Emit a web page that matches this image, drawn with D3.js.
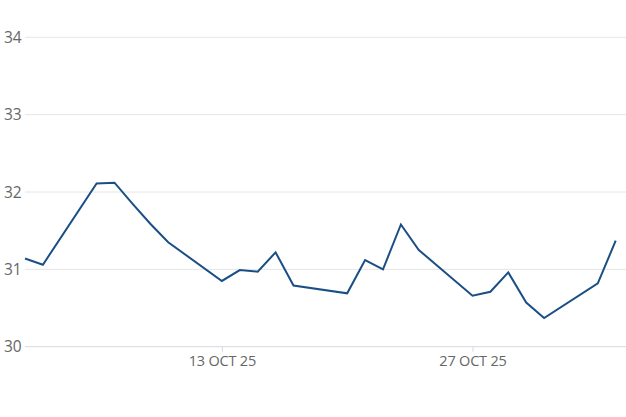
<!DOCTYPE html>
<html>
<head>
<meta charset="utf-8">
<script src="https://cdn.jsdelivr.net/npm/d3@7"></script>
<style>
  body { margin: 0; background: #fff; }
  svg { display: block; }
  .tick text { font-family: "Open Sans", "Liberation Sans", sans-serif; fill: #666; }
</style>
</head>
<body>
<svg id="chart"></svg>
<script>
const dates = ["2025-10-02","2025-10-03","2025-10-06","2025-10-07","2025-10-08","2025-10-09","2025-10-10",
  "2025-10-13","2025-10-14","2025-10-15","2025-10-16","2025-10-17",
  "2025-10-20","2025-10-21","2025-10-22","2025-10-23","2025-10-24",
  "2025-10-27","2025-10-28","2025-10-29","2025-10-30","2025-10-31",
  "2025-11-03","2025-11-04"];
const values = [31.14, 31.06, 32.11, 32.12, 31.85, 31.59, 31.35,
  30.85, 30.99, 30.97, 31.22, 30.79,
  30.69, 31.12, 31.00, 31.58, 31.25,
  30.66, 30.71, 30.96, 30.57, 30.37,
  30.82, 31.37];
const yTicks = [30, 31, 32, 33, 34];
const xTicks = ["2025-10-13", "2025-10-27"];

const width = 626, height = 417;
const svg = d3.select("#chart").attr("width", width).attr("height", height);

const parse = d3.utcParse("%Y-%m-%d");
const data = dates.map((d, i) => ({ date: parse(d), value: values[i] }));

const x = d3.scaleUtc()
    .domain(d3.extent(data, d => d.date))
    .range([25, 615.7]);

const y = d3.scaleLinear()
    .domain([30, 34])
    .range([346.7, 37.3]);

// gridlines
svg.append("g")
    .selectAll("line")
    .data(yTicks)
    .enter().append("line")
    .attr("x1", 25)
    .attr("x2", width)
    .attr("y1", d => y(d))
    .attr("y2", d => y(d))
    .attr("stroke", d => d === 30 ? "#d5d9e0" : "#e6e6e6")
    .attr("stroke-width", 1);

// y labels
svg.append("g")
    .selectAll("text")
    .data(yTicks)
    .enter().append("text")
    .attr("x", 4)
    .attr("y", d => y(d))
    .attr("dy", "0.36em")
    .style("font-family", "'Open Sans', 'Liberation Sans', sans-serif")
    .style("font-size", "15.5px")
    .style("fill", "#666")
    .text(d => d);

// x axis
const xAxis = svg.append("g")
    .attr("transform", `translate(0,${y(30)})`)
    .call(d3.axisBottom(x)
        .tickValues(xTicks.map(parse))
        .tickSize(5)
        .tickPadding(4)
        .tickFormat(d => d3.utcFormat("%-d %b %y")(d).toUpperCase()));
xAxis.select(".domain").remove();
xAxis.selectAll(".tick line").attr("stroke", "#d5d9e0");
xAxis.selectAll(".tick text").style("font-size", "14.5px").style("letter-spacing", "-0.2px");

// line
const line = d3.line()
    .x(d => x(d.date))
    .y(d => y(d.value));

svg.append("path")
    .datum(data)
    .attr("fill", "none")
    .attr("stroke", "#1a4f86")
    .attr("stroke-width", 2)
    .attr("stroke-linejoin", "miter")
    .attr("d", line);
</script>
</body>
</html>
